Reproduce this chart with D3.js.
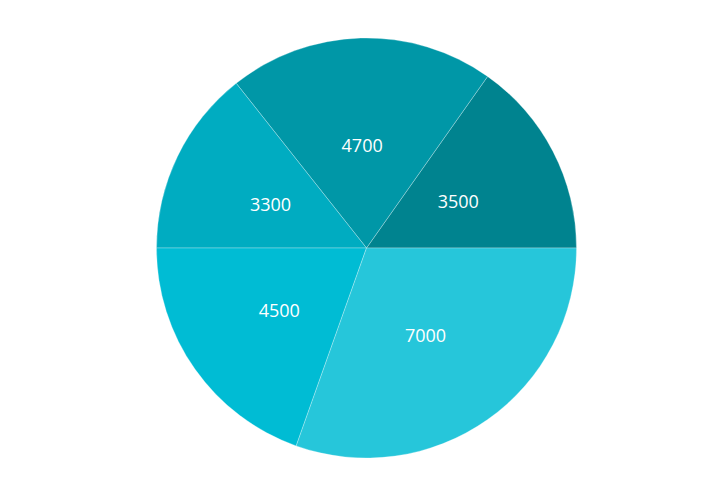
<!DOCTYPE html>
<html><head><meta charset="utf-8">
<script src="https://cdn.jsdelivr.net/npm/d3@7"></script>
<style>html,body{margin:0;padding:0;background:#fff;}svg{display:block;}</style>
</head><body>
<script>
const categories = ["A", "B", "C", "D", "E"];
const values = [3500, 4700, 3300, 4500, 7000];
const colors = ["#00838f", "#0097a7", "#00acc1", "#00bcd4", "#26c6da"];

const W = 725, H = 493, cx = 366.5, cy = 248, R = 210;
const svg = d3.select("body").append("svg").attr("width", W).attr("height", H);
const g = svg.append("g").attr("transform", `translate(${cx},${cy})`);

// start at 3 o'clock, go counter-clockwise
const pie = d3.pie().sort(null).value(d => d.v)
  .startAngle(Math.PI / 2).endAngle(Math.PI / 2 - 2 * Math.PI);
const data = pie(values.map((v, i) => ({ v, c: categories[i], col: colors[i] })));
const arc = d3.arc().innerRadius(0).outerRadius(R);
const labelArc = d3.arc().innerRadius(R * 0.5).outerRadius(R * 0.5);

g.selectAll("path").data(data).join("path")
  .attr("d", arc)
  .attr("fill", d => d.data.col)
  .attr("stroke", "rgba(255,255,255,0.35)")
  .attr("stroke-width", 0.8);

g.selectAll("text").data(data).join("text")
  .attr("transform", d => { const [x, y] = labelArc.centroid(d); return `translate(${x - 1.5},${y + 2})`; })
  .attr("text-anchor", "middle")
  .attr("dy", "0.36em")
  .attr("fill", "#fff")
  .style("font-family", "'Open Sans', 'Noto Sans', sans-serif")
  .style("font-size", "18px")
  .text(d => d.data.v);
</script>
</body></html>
